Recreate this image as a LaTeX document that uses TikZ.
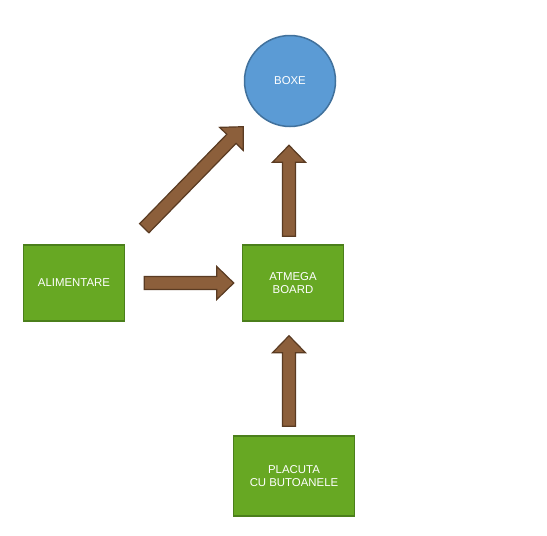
\documentclass[tikz,border=0pt]{standalone}
\usepackage{fontspec}
\setmainfont{Liberation Sans}
\usepackage{tikz}
\usetikzlibrary{calc}

\definecolor{verdebloc}{HTML}{67A823}
\definecolor{verdecontur}{HTML}{4B7F1B}
\definecolor{albastrucerc}{HTML}{5B9BD5}
\definecolor{albastrucontur}{HTML}{41719C}
\definecolor{marosageata}{HTML}{8C5F3B}
\definecolor{maroncontur}{HTML}{5A3B22}

\tikzset{
  bloc/.style={draw=verdecontur, fill=verdebloc, line width=1.5pt,
    minimum width=101pt, minimum height=76pt, text=white, align=center,
    font=\fontsize{11.4}{13.5}\selectfont},
  cerc/.style={circle, draw=albastrucontur, fill=albastrucerc, line width=1.5pt,
    minimum size=91pt, text=white, font=\fontsize{11.4}{13.5}\selectfont},
  sageatastil/.style={draw=maroncontur, fill=marosageata, line width=1.2pt,
    line join=miter}
}

% sageata plina intre doua puncte
\newcommand{\sageata}[2]{%
  \coordinate (h) at ($(#2)!17pt!(#1)$);
  \draw[sageatastil] ($(#1)!6.5pt!90:(#2)$) -- ($(h)!6.5pt!90:(#2)$)
    -- ($(h)!16.5pt!90:(#2)$) -- (#2) -- ($(h)!16.5pt!-90:(#2)$)
    -- ($(h)!6.5pt!-90:(#2)$) -- ($(#1)!6.5pt!-90:(#2)$) -- cycle;
}

\begin{document}
\begin{tikzpicture}[x=1pt, y=-1pt]
  \useasboundingbox (0,0) rectangle (547,536);

  % blocuri
  \node[cerc] (boxe) at (290,81) {BOXE};
  \node[bloc] (alim) at (74,283) {ALIMENTARE};
  \node[bloc] (atmega) at (293,283) {ATMEGA\\BOARD};
  \node[bloc, minimum width=121pt, minimum height=80pt] (placuta) at (294,476)
    {PLACUTA\\CU BUTOANELE};

  % capetele sagetilor
  \coordinate (a1) at ($(alim.east)+(19,0)$);
  \coordinate (a2) at ($(atmega.west)+(-8,0)$);
  \coordinate (d1) at ($(alim.north east)+(19,-16)$);
  \coordinate (d2) at ($(boxe.south west)+(-14,13)$);
  \coordinate (v1) at ($(atmega.north)+(-4,-8)$);
  \coordinate (v2) at ($(boxe.south)+(-1,18)$);
  \coordinate (p1) at ($(placuta.north)+(-5,-9)$);
  \coordinate (p2) at ($(atmega.south)+(-4,14)$);

  % sageti
  \sageata{a1}{a2}
  \sageata{d1}{d2}
  \sageata{v1}{v2}
  \sageata{p1}{p2}
\end{tikzpicture}
\end{document}
